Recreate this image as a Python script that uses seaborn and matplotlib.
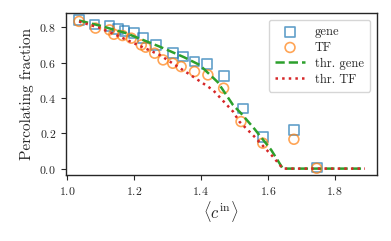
import matplotlib
matplotlib.use("Agg")
import matplotlib.pyplot as plt
import seaborn as sns

# measured points
gene_x = [1.036, 1.082, 1.127, 1.152, 1.172, 1.199, 1.227, 1.267, 1.316, 1.346,
          1.381, 1.419, 1.468, 1.525, 1.585, 1.678, 1.746]
gene_y = [0.841, 0.815, 0.809, 0.788, 0.780, 0.766, 0.738, 0.700, 0.653, 0.634,
          0.606, 0.593, 0.525, 0.340, 0.181, 0.217, 0.006]

tf_x = [1.036, 1.085, 1.127, 1.140, 1.166, 1.192, 1.222, 1.235, 1.262, 1.287,
        1.316, 1.341, 1.381, 1.421, 1.468, 1.520, 1.585, 1.678, 1.746]
tf_y = [0.833, 0.795, 0.785, 0.760, 0.753, 0.738, 0.700, 0.687, 0.653, 0.615,
        0.596, 0.577, 0.549, 0.530, 0.455, 0.266, 0.144, 0.166, 0.002]

# theory curves
thr_gene_x = [1.036, 1.10, 1.177, 1.277, 1.35, 1.396, 1.45, 1.496, 1.52, 1.56,
              1.61, 1.645, 1.70, 1.80, 1.89]
thr_gene_y = [0.838, 0.808, 0.766, 0.690, 0.630, 0.587, 0.490, 0.360, 0.313, 0.225,
              0.106, 0.0, 0.0, 0.0, 0.0]

thr_tf_x = [1.036, 1.10, 1.157, 1.277, 1.376, 1.436, 1.496, 1.515, 1.56, 1.615,
            1.645, 1.70, 1.80, 1.89]
thr_tf_y = [0.832, 0.795, 0.747, 0.643, 0.521, 0.445, 0.323, 0.266, 0.181, 0.068,
            0.0, 0.0, 0.0, 0.0]

sns.set_style("ticks")
plt.rcParams.update({
    "font.family": "serif",
    "font.serif": ["cmr10"],
    "mathtext.fontset": "cm",
    "axes.formatter.use_mathtext": True,
    "axes.unicode_minus": False,
})

fig = plt.figure(figsize=(3.91, 2.41), dpi=100)
ax = fig.add_axes([0.168, 0.274, 0.795, 0.671])

sns.scatterplot(x=gene_x, y=gene_y, ax=ax, marker="s", s=50, facecolors="none",
                edgecolor="C0", linewidth=1.2, alpha=0.7, label="gene")
sns.scatterplot(x=tf_x, y=tf_y, ax=ax, marker="o", s=50, facecolors="none",
                edgecolor="C1", linewidth=1.2, alpha=0.7, label="TF")
sns.lineplot(x=thr_gene_x, y=thr_gene_y, ax=ax, color="C2", linestyle="--",
             linewidth=1.8, label="thr. gene")
sns.lineplot(x=thr_tf_x, y=thr_tf_y, ax=ax, color="C3", linestyle=":",
             linewidth=1.8, label="thr. TF")

ax.set_xlim(0.996, 1.925)
ax.set_ylim(-0.036, 0.879)
ax.set_xticks([1.0, 1.2, 1.4, 1.6, 1.8])
ax.set_yticks([0.0, 0.2, 0.4, 0.6, 0.8])
ax.tick_params(labelsize=8.5, length=3.5)
ax.set_xlabel(r"$\langle c^{\rm in}\rangle$", fontsize=12, labelpad=2)
ax.set_ylabel("Percolating fraction", fontsize=11, labelpad=4)
for s in ax.spines.values():
    s.set_visible(True)
    s.set_linewidth(1.0)

ax.legend(loc="upper right", fontsize=9, frameon=True, handlelength=2.4,
          labelspacing=0.3, borderpad=0.5)

plt.savefig("out.png", dpi=100)
